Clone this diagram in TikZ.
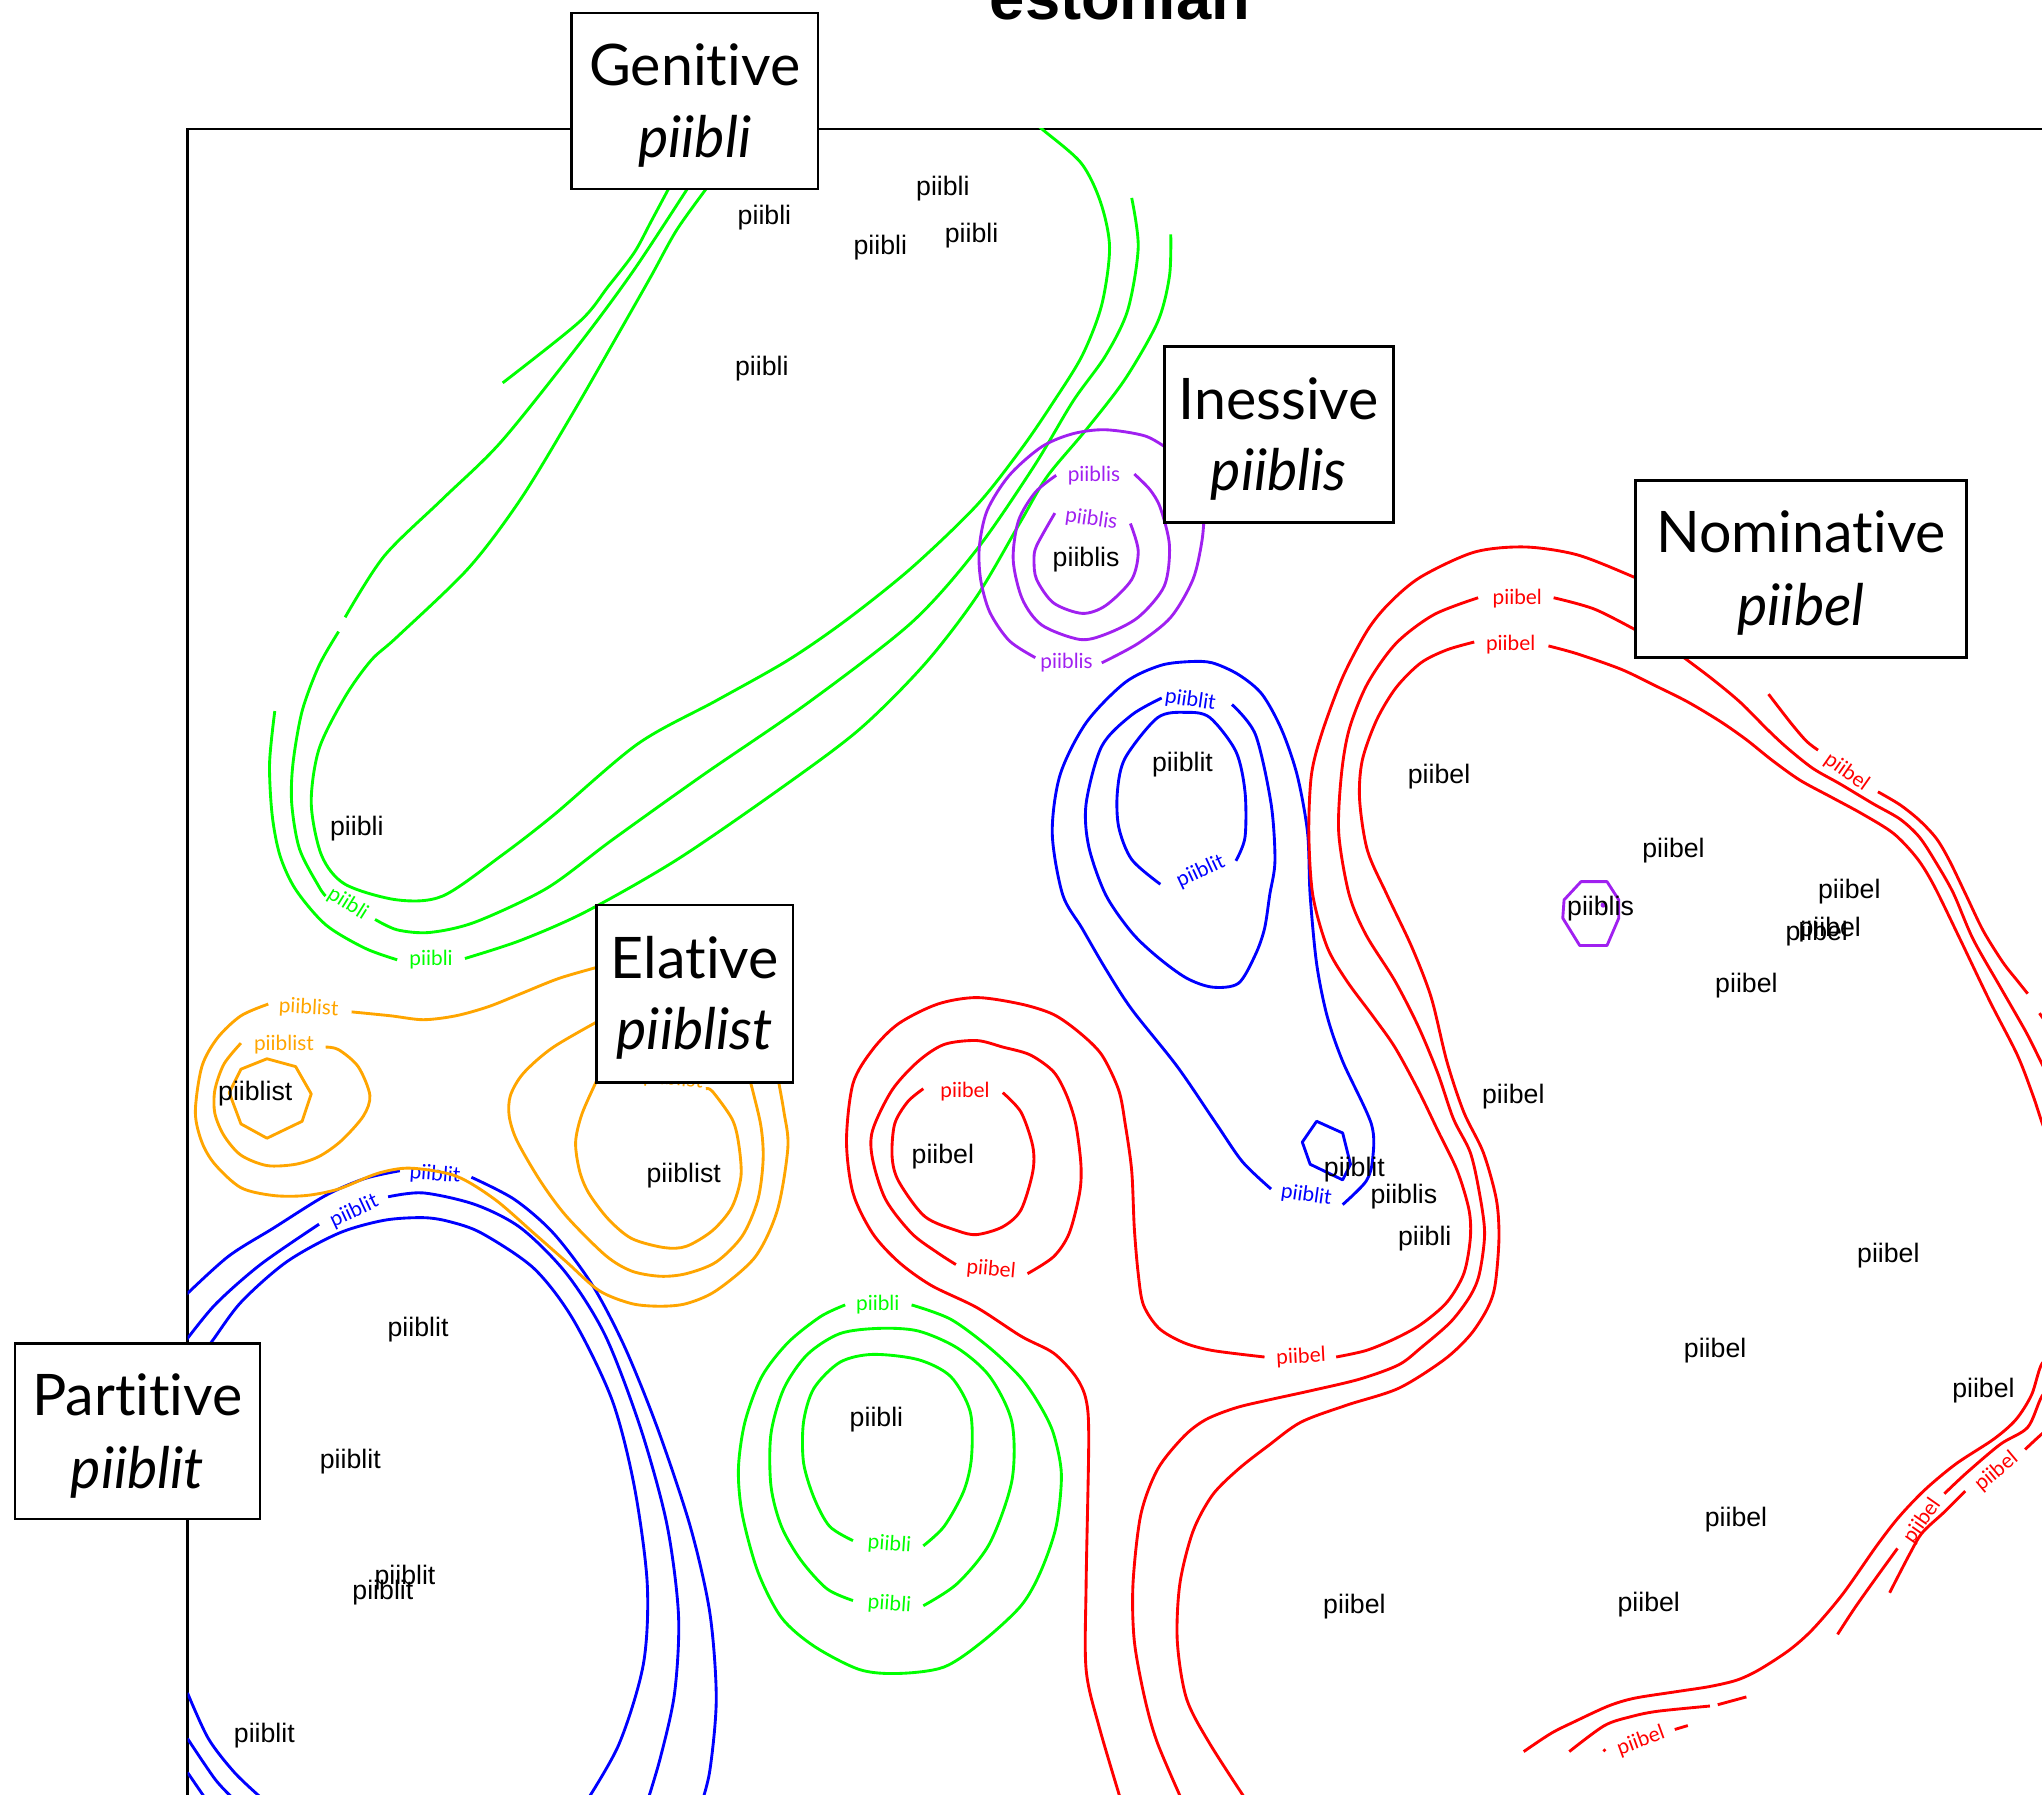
\documentclass[tikz,border=0pt]{standalone}
\usepackage{fontspec}
\setmainfont{Liberation Sans}
\newfontfamily\gill[Ligatures={NoCommon,NoContextual}]{Lato}
\definecolor{cgreen}{RGB}{0,255,0}
\definecolor{cred}{RGB}{255,0,0}
\definecolor{cblue}{RGB}{0,0,255}
\definecolor{cpurple}{RGB}{160,32,240}
\definecolor{corange}{RGB}{255,165,0}
\begin{document}
\begin{tikzpicture}[x=1pt,y=-1pt,
  cl/.style={line width=2.2pt, line join=round, line cap=butt},
  gl/.style={cl, draw=cgreen},
  rl/.style={cl, draw=cred},
  bl/.style={cl, draw=cblue},
  pl/.style={cl, draw=cpurple},
  ol/.style={cl, draw=corange},
  inl/.style={inner sep=0pt, font=\gill\fontsize{16}{18}\selectfont},
  blab/.style={inner sep=0pt, font=\fontsize{20.5}{24}\selectfont},
  casebox/.style={draw=black, fill=white, line width=2pt, inner sep=0pt},
  caseA/.style={anchor=base, inner sep=0pt, font=\gill\fontsize{44}{48}\selectfont},
  caseB/.style={anchor=base, inner sep=0pt, font=\gill\itshape\fontsize{44}{48}\selectfont}]
\useasboundingbox (0,0) rectangle (1568,1378);

\node[anchor=base, inner sep=0pt, font=\bfseries\fontsize{48.6}{52}\selectfont] (title) at (860,15) {estonian};

\draw[line width=2pt] (144,1390) -- (144,99) -- (1580,99);

\begin{scope}
\clip (144,99) rectangle (1568,1378);
% ---------- green (genitive) ----------
\draw[gl] plot[smooth] coordinates {(516,140) (500,170) (487,194) (467,220) (445,247) (386,294)};
\draw[gl] plot[smooth] coordinates {(211,546) (207,586) (209,626) (215,657) (227,683) (250,710) (280,728) (305,737)};
\draw[gl] plot[smooth] coordinates {(357,736) (400,722) (450,700) (520,660) (600,605) (660,560) (710,510) (750,458) (784,400) (804,366) (834,330) (864,291) (889,247) (898,212) (899,180)};
\draw[gl] plot[smooth] coordinates {(531,140) (487,207) (445,264) (385,339) (340,383) (295,427) (265,474)};
\draw[gl] plot[smooth] coordinates {(260,485) (245,511) (232,546) (225,586) (224,617) (230,652) (245,681) (250,688)};
\draw[gl] plot[smooth] coordinates {(288,706) (305,714) (330,716) (365,708) (420,682) (470,645) (540,595) (620,540) (700,478) (750,422) (794,358) (824,308) (849,273) (866,238) (874,190) (869,152)};
\draw[gl] plot[smooth] coordinates {(546,140) (520,176) (500,212) (475,256) (440,317) (400,383) (360,436) (305,489) (285,507) (265,535) (245,575) (239,617) (247,657) (265,679) (305,691) (340,688) (385,657) (425,626) (490,571) (550,538) (605,507) (650,476) (700,436) (750,388) (784,345) (808,310) (831,273) (846,234) (852,190) (845,155) (830,125) (800,99) (795,94)};
\node[inl, text=cgreen, rotate=-32] (gl1) at (267,694) {piibli};
\node[inl, text=cgreen] (gl2) at (331,737) {piibli};
% green bottom loops
\draw[gl] plot[smooth] coordinates {(700,1002) (730,1013) (760,1035) (784,1058) (799,1080) (809,1101) (815,1132) (811,1172) (799,1207) (784,1233) (755,1260) (725,1280) (690,1285) (660,1282) (625,1264) (600,1242) (582,1207) (570,1163) (567,1128) (572,1092) (585,1057) (605,1031) (630,1011) (649,1002)};
\draw[gl] plot[smooth] coordinates {(709,1233) (735,1216) (760,1185) (777,1137) (777,1092) (760,1057) (735,1035) (705,1022) (675,1020) (645,1024) (620,1040) (602,1066) (592,1101) (592,1141) (600,1172) (615,1198) (635,1220) (655,1229)};
\draw[gl] plot[smooth] coordinates {(709,1187) (725,1172) (740,1145) (746,1119) (745,1084) (730,1057) (705,1044) (670,1040) (645,1046) (625,1066) (617,1092) (617,1123) (625,1150) (637,1172) (655,1183)};
\node[inl, text=cgreen] (gl3) at (674,1002) {piibli};
\node[inl, text=cgreen, rotate=-4] (gl4) at (683,1186) {piibli};
\node[inl, text=cgreen, rotate=-4] (gl5) at (683,1232) {piibli};
% ---------- purple (inessive) ----------
\draw[pl] plot[smooth] coordinates {(868,402) (874,423) (869,445) (849,465) (831,471) (809,463) (796,445) (794,430) (796,419) (810,394)};
\draw[pl] plot[smooth] coordinates {(871,364) (883,376) (891,390) (898,419) (894,450) (874,474) (849,487) (829,491) (800,480) (785,460) (778,430) (782,400) (795,378) (811,365)};
\draw[pl] plot[smooth] coordinates {(900,347) (880,335) (849,330) (824,333) (800,343) (775,365) (758,392) (752,420) (753,445) (760,470) (775,492) (795,505)};
\draw[pl] plot[smooth] coordinates {(846,509) (874,494) (899,474) (916,445) (923,415) (925,390)};
\node[inl, text=cpurple] (pl1) at (840,365) {piiblis};
\node[inl, text=cpurple, rotate=-8] (pl2) at (838,399) {piiblis};
\node[inl, text=cpurple] (pl3) at (819,509) {piiblis};
\draw[pl] (1214,677) -- (1234,677) -- (1243,691) -- (1243,705) -- (1234,726) -- (1213,726) -- (1200,705) -- (1201,691) -- cycle;
\fill[cpurple] (1231,695) circle (2pt);
% ---------- blue upper ----------
\draw[bl] plot[smooth] coordinates {(976,913) (954,892) (934,863) (904,819) (869,775) (849,744) (831,713) (816,687) (808,640) (814,595) (834,555) (864,524) (891,511) (914,508) (931,509) (951,518) (969,533) (984,560) (996,595) (1004,639) (1006,687) (1011,740) (1019,780) (1031,815) (1053,863) (1054,890) (1049,907) (1031,925)};
\draw[bl] plot[smooth] coordinates {(946,541) (964,564) (976,617) (979,661) (975,687) (971,713) (964,733) (951,755) (931,758) (911,751) (889,735) (869,716) (849,687) (836,650) (834,617) (846,573) (869,549) (892,536)};
\draw[bl] plot[smooth] coordinates {(949,661) (956,643) (956,608) (949,577) (929,551) (911,547) (889,551) (864,582) (858,608) (859,635) (869,660) (891,679)};
\draw[bl] (1011,861) -- (1031,870) -- (1037,894) -- (1031,906) -- (1006,894) -- (1000,877) -- cycle;
\node[inl, text=cblue, rotate=-8] (bl1) at (914,538) {piiblit};
\node[inl, text=cblue, rotate=25] (bl2) at (922,669) {piiblit};
\node[inl, text=cblue, rotate=-8] (bl3) at (1003,918) {piiblit};
% ---------- blue lower (partitive) ----------
\draw[bl] plot[smooth] coordinates {(140,997) (175,965) (210,943) (250,918) (280,905) (307,899)};
\draw[bl] plot[smooth] coordinates {(362,904) (395,921) (425,947) (455,987) (480,1035) (505,1097) (530,1172) (545,1238) (550,1304) (545,1360) (537,1390)};
\draw[bl] plot[smooth] coordinates {(140,1033) (165,1002) (200,971) (245,940)};
\draw[bl] plot[smooth] coordinates {(298,919) (325,916) (365,925) (400,943) (435,978) (465,1026) (492,1097) (512,1170) (521,1240) (518,1300) (507,1350) (495,1390)};
\draw[bl] plot[smooth] coordinates {(150,1045) (162,1031) (185,1000) (220,969) (260,947) (295,937) (325,935) (345,938) (370,947) (410,974) (440,1013) (470,1075) (487,1141) (497,1216) (494,1278) (475,1340) (446,1390)};
\draw[bl] plot[smooth] coordinates {(144,1300) (160,1335) (180,1361) (200,1380)};
\draw[bl] plot[smooth] coordinates {(144,1335) (165,1366) (178,1380)};
\draw[bl] plot[smooth] coordinates {(144,1361) (157,1380)};
\node[inl, text=cblue, rotate=-4] (bl4) at (334,902) {piiblit};
\node[inl, text=cblue, rotate=25] (bl5) at (272,930) {piiblit};
% ---------- orange (elative) ----------
\draw[ol] (205,813) -- (227,819) -- (239,840) -- (232,861) -- (205,874) -- (185,863) -- (176,839) -- (185,821) -- cycle;
\draw[ol] plot[smooth] coordinates {(250,804) (260,806) (275,819) (284,841) (279,857) (262,876) (245,888) (227,894) (205,895) (185,887) (172,872) (165,855) (165,837) (172,817) (185,801)};
\draw[ol] plot[smooth] coordinates {(206,771) (185,780) (167,797) (155,819) (150,854) (155,877) (165,894) (185,912) (210,918) (235,918) (260,913) (290,901) (315,897) (350,903) (380,921) (410,947) (435,969) (460,991) (485,1001) (507,1003) (527,1001) (550,991) (580,965) (597,929) (605,881) (602,854) (597,826)};
\draw[ol] plot[smooth] coordinates {(270,777) (300,780) (325,783) (350,780) (375,773) (400,763) (430,751) (465,741)};
\draw[ol] plot[smooth] coordinates {(465,781) (425,804) (402,824) (392,841) (391,857) (397,876) (415,907) (435,934) (465,964) (485,976) (507,980) (527,978) (550,969) (570,949) (582,921) (586,890) (584,863) (575,826)};
\draw[ol] plot[smooth] coordinates {(542,836) (547,838) (562,859) (567,877) (569,903) (562,927) (547,945) (527,957) (510,958) (485,951) (467,936) (452,916) (445,899) (442,877) (447,855) (460,826)};
\node[inl, text=corange, rotate=-3] (ol1) at (237,774) {piiblist};
\node[inl, text=corange] (ol2) at (218,802) {piiblist};
\node[inl, text=corange, rotate=-5] (ol3) at (517,829) {piiblist};
% ---------- red small loops ----------
\draw[rl] plot[smooth] coordinates {(770,839) (784,854) (793,880) (793,900) (784,929) (770,942) (750,948) (735,945) (710,934) (690,907) (685,888) (687,863) (697,846) (709,836)};
\draw[rl] plot[smooth] coordinates {(789,978) (809,965) (821,947) (829,916) (830,894) (826,863) (819,841) (809,823) (791,810) (770,804) (750,799) (725,802) (705,815) (685,837) (670,868) (670,890) (680,921) (700,947) (720,962) (734,971)};
\node[inl, text=cred] (rl1) at (741,838) {piibel};
\node[inl, text=cred, rotate=-5] (rl2) at (761,975) {piibel};
% ---------- red big (nominative) ----------
\draw[rl] plot[smooth] coordinates {(863,1390) (844,1326) (834,1282) (834,1216) (836,1106) (834,1075) (826,1057) (809,1039) (784,1026) (750,1004) (715,987) (690,969) (670,947) (655,916) (650,876) (655,832) (670,806) (690,786) (720,771) (750,766) (784,771) (809,779) (829,793) (846,810) (859,837) (864,863) (869,899) (871,943) (874,978) (878,1002) (890,1020) (909,1031) (931,1037) (971,1042)};
\draw[rl] plot[smooth] coordinates {(1026,1042) (1049,1037) (1071,1028) (1091,1017) (1111,1000) (1124,978) (1129,951) (1128,929) (1119,899) (1104,868) (1089,837) (1071,804) (1054,780) (1034,753) (1019,727) (1008,687) (1005,639) (1007,595) (1015,563) (1031,520) (1050,484) (1067,463) (1091,443) (1132,424) (1171,420) (1211,426) (1252,442) (1264,448)};
\node[inl, text=cred, rotate=3] (rl3) at (999,1042) {piibel};
\draw[rl] plot[smooth] coordinates {(911,1390) (889,1339) (879,1304) (871,1260) (870,1216) (876,1163) (889,1128) (909,1103) (926,1090) (949,1081) (974,1075) (1006,1068) (1044,1059) (1074,1048) (1091,1035) (1114,1015) (1129,995) (1136,978) (1140,947) (1136,916) (1129,885) (1116,859) (1104,824) (1089,788) (1071,753) (1049,718) (1036,687) (1028,640) (1030,595) (1036,560) (1050,525) (1072,494) (1101,472) (1135,459)};
\draw[rl] plot[smooth] coordinates {(1193,459) (1225,468) (1262,487)};
\draw[rl] plot[smooth] coordinates {(1285,499) (1313,520) (1336,539) (1357,560) (1372,574) (1392,590) (1413,602) (1438,617) (1459,629) (1474,643) (1487,663) (1500,686) (1515,721) (1536,758) (1556,793) (1568,817) (1580,840)};
\node[inl, text=cred] (rl4) at (1165,460) {piibel};
\draw[rl] plot[smooth] coordinates {(962,1390) (929,1339) (911,1304) (904,1260) (906,1216) (916,1176) (931,1148) (951,1128) (974,1110) (999,1092) (1034,1079) (1074,1066) (1109,1044) (1129,1025) (1142,1005) (1148,987) (1151,951) (1149,921) (1139,885) (1124,854) (1111,815) (1099,766) (1084,727) (1065,687) (1050,653) (1044,614) (1046,584) (1057,553) (1072,528) (1091,509) (1111,499) (1132,493)};
\draw[rl] plot[smooth] coordinates {(1189,496) (1211,502) (1245,514) (1272,527) (1296,539) (1321,554) (1341,568) (1361,584) (1382,599) (1406,612) (1430,625) (1454,640) (1472,659) (1485,680) (1505,721) (1528,769) (1549,810) (1561,841) (1568,862) (1575,880)};
\node[inl, text=cred] (rl5) at (1160,495) {piibel};
\draw[rl] plot[smooth] coordinates {(1358,533) (1375,555) (1387,569) (1396,576)};
\draw[rl] plot[smooth] coordinates {(1442,608) (1459,618) (1474,630) (1487,644) (1497,661) (1510,688) (1523,715) (1538,739) (1549,753) (1557,763)};
\draw[rl] (1566,778) -- (1576,792);
\node[inl, text=cred, rotate=-35] (rl6) at (1418,593) {piibel};
% lower right
\draw[rl] plot[smooth] coordinates {(1580,1040) (1568,1047) (1560,1071) (1548,1090) (1531,1105) (1502,1124) (1478,1144) (1458,1165) (1441,1187) (1415,1224) (1392,1251) (1374,1267) (1351,1282) (1334,1290) (1313,1295) (1287,1299) (1255,1304) (1235,1310) (1209,1322) (1191,1331) (1170,1345)};
\draw[rl] plot[smooth] coordinates {(1580,1060) (1568,1072) (1557,1096) (1536,1109) (1510,1131) (1493,1147)};
\draw[rl] plot[smooth] coordinates {(1457,1189) (1441,1211) (1424,1235) (1411,1255)};
\node[inl, text=cred, rotate=55] (rl7) at (1476,1168) {piibel};
\draw[rl] plot[smooth] coordinates {(1580,1092) (1568,1101) (1555,1113)};
\draw[rl] plot[smooth] coordinates {(1509,1145) (1493,1161) (1476,1177) (1466,1194) (1451,1223)};
\node[inl, text=cred, rotate=40] (rl8) at (1533,1130) {piibel};
\draw[rl] plot[smooth] coordinates {(1341,1303) (1330,1306) (1319,1309)};
\draw[rl] plot[smooth] coordinates {(1313,1310) (1273,1314) (1253,1318) (1232,1325) (1205,1345)};
\draw[rl] (1286,1328) -- (1296,1325);
\fill[cred] (1232,1344) circle (1.5pt);
\node[inl, text=cred, rotate=20] (rl9) at (1260,1337) {piibel};
\end{scope}

% ---------- black labels ----------
\node[blab] (k1) at (587,167) {piibli};
\node[blab] (k2) at (724,145) {piibli};
\node[blab] (k3) at (676,190) {piibli};
\node[blab] (k4) at (746,181) {piibli};
\node[blab] (k5) at (585,283) {piibli};
\node[blab] (k6) at (274,636) {piibli};
\node[blab] (k7) at (834,430) {piiblis};
\node[blab] (k8) at (908,587) {piiblit};
\node[blab] (k9) at (1105,596) {piibel};
\node[blab] (k10) at (1285,653) {piibel};
\node[blab] (k11) at (1420,685) {piibel};
\node[blab] (k12) at (1229,698) {piiblis};
\node[blab] (k13) at (1395,717) {piibel};
\node[blab] (k14) at (1405,714) {piibel};
\node[blab] (k15) at (1341,757) {piibel};
\node[blab] (k16) at (1162,842) {piibel};
\node[blab] (k17) at (1040,898) {piiblit};
\node[blab] (k18) at (1078,919) {piiblis};
\node[blab] (k19) at (1094,951) {piibli};
\node[blab] (k20) at (1450,964) {piibel};
\node[blab] (k21) at (1317,1037) {piibel};
\node[blab] (k22) at (1523,1068) {piibel};
\node[blab] (k23) at (1333,1167) {piibel};
\node[blab] (k24) at (1266,1232) {piibel};
\node[blab] (k25) at (1040,1234) {piibel};
\node[blab] (k26) at (724,888) {piibel};
\node[blab] (k27) at (196,840) {piiblist};
\node[blab] (k28) at (525,903) {piiblist};
\node[blab] (k29) at (673,1090) {piibli};
\node[blab] (k30) at (321,1021) {piiblit};
\node[blab] (k31) at (269,1122) {piiblit};
\node[blab] (k32) at (311,1211) {piiblit};
\node[blab] (k33) at (294,1223) {piiblit};
\node[blab] (k34) at (203,1333) {piiblit};

% ---------- case boxes ----------
\node[casebox, minimum width=189pt, minimum height=135pt] (gen) at (533.5,77.5) {};
\node[caseA] (genA) at (533.5,66) {Genitive};
\node[caseB] (genB) at (533.5,121) {piibli};
\node[casebox, minimum width=176pt, minimum height=135pt] (ine) at (982,333.5) {};
\node[caseA] (ineA) at (982,322) {Inessive};
\node[caseB] (ineB) at (982,377) {piiblis};
\node[casebox, minimum width=254pt, minimum height=136pt] (nom) at (1383,437) {};
\node[caseA] (nomA) at (1383,424) {Nominative};
\node[caseB] (nomB) at (1383,480) {piibel};
\node[casebox, minimum width=151pt, minimum height=136pt] (ela) at (533.5,763) {};
\node[caseA] (elaA) at (533.5,751) {Elative};
\node[caseB] (elaB) at (533.5,806) {piiblist};
\node[casebox, minimum width=188pt, minimum height=134.5pt] (par) at (105.5,1099) {};
\node[caseA] (parA) at (105.5,1087) {Partitive};
\node[caseB] (parB) at (105.5,1143) {piiblit};
\end{tikzpicture}
\end{document}
